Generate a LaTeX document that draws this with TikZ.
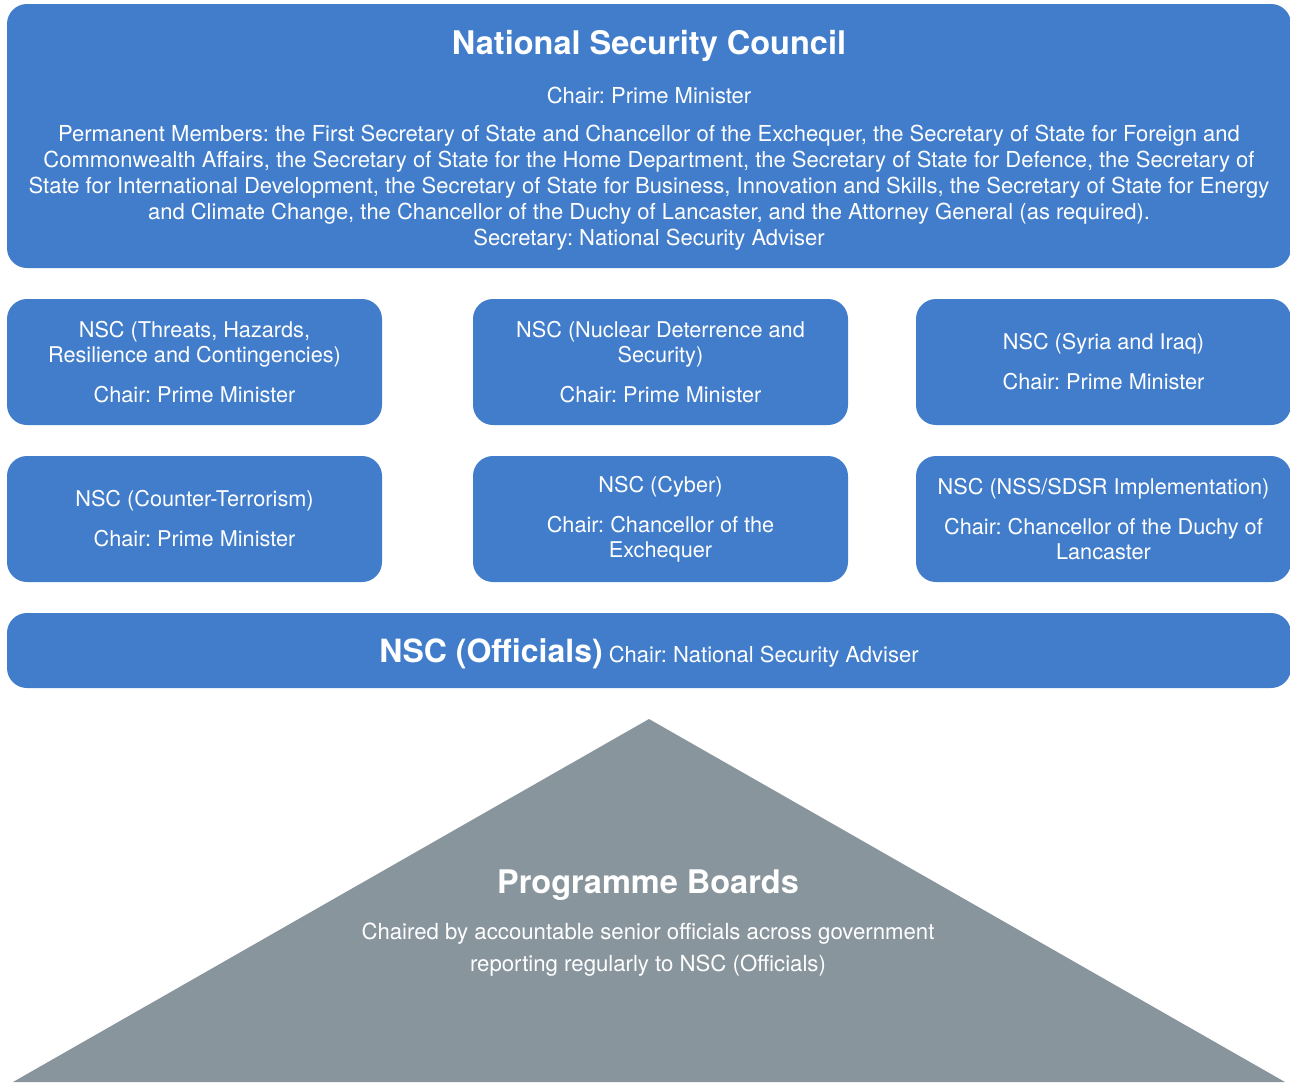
\documentclass[tikz,border=0pt]{standalone}
\usepackage{fontspec}
\setmainfont{TeX Gyre Heros}
\usetikzlibrary{positioning}
\definecolor{nscblue}{RGB}{65,125,203}
\definecolor{boardgrey}{RGB}{137,149,157}
\frenchspacing

\begin{document}
\begin{tikzpicture}[x=1pt,y=-1pt,
  panel/.style={fill=nscblue, rounded corners=20pt, inner sep=0pt, text=white,
    align=center, font=\fontsize{21.7}{25}\selectfont},
  subpanel/.style={panel, minimum width=375pt, minimum height=126pt},
  txt/.style={text=white, inner sep=0pt, align=center, font=\fontsize{22}{26}\selectfont},
  head/.style={text=white, inner sep=0pt, font=\fontsize{32.5}{36}\selectfont\bfseries}]
  \useasboundingbox (0,0) rectangle (1290,1082);

  % main council
  \node[panel, minimum width=1284pt, minimum height=264pt] (nsc) at (649,136) {};
  \node[head] (nsctitle) at (649,46) {National Security Council};
  \node[txt] (nscchair) at (649,95) {Chair: Prime Minister};
  \node[txt] (nscmembers) at (649,188) {Permanent Members: the First Secretary of State and Chancellor of the Exchequer, the Secretary of State for Foreign and\\
    Commonwealth Affairs, the Secretary of State for the Home Department, the Secretary of State for Defence, the Secretary of\\
    State for International Development, the Secretary of State for Business, Innovation and Skills, the Secretary of State for Energy\\
    and Climate Change, the Chancellor of the Duchy of Lancaster, and the Attorney General (as required).\\
    Secretary: National Security Adviser};

  % sub-committees
  \node[subpanel] (threats) at (194.5,362) {NSC (Threats, Hazards,\\Resilience and Contingencies)\\[15pt]Chair: Prime Minister};
  \node[subpanel] (nuclear) at (660.5,362) {NSC (Nuclear Deterrence and\\Security)\\[15pt]Chair: Prime Minister};
  \node[subpanel] (syria) at (1103.5,362) {NSC (Syria and Iraq)\\[15pt]Chair: Prime Minister};
  \node[subpanel] (terror) at (194.5,519) {NSC (Counter-Terrorism)\\[15pt]Chair: Prime Minister};
  \node[subpanel] (cyber) at (660.5,519) {NSC (Cyber)\\[15pt]Chair: Chancellor of the\\Exchequer};
  \node[subpanel] (sdsr) at (1103.5,519) {NSC (NSS/SDSR Implementation)\\[15pt]Chair: Chancellor of the Duchy of\\Lancaster};

  % officials
  \node[panel, minimum width=1284pt, minimum height=75pt] (officials) at (649,650.5) {};
  \node[txt] (officialstext) at (649,653.5)
    {{\fontsize{32}{36}\selectfont\bfseries NSC (Officials)} Chair: National Security Adviser};

  % programme boards
  \coordinate (apex) at (649,719);
  \coordinate (baseleft) at (13,1082);
  \coordinate (baseright) at (1285,1082);
  \fill[boardgrey] (baseleft) -- (apex) -- (baseright) -- cycle;
  \node[head] (boards) at (648,885) {Programme Boards};
  \node[txt, font=\fontsize{22.2}{32}\selectfont] (boardstext) at (648,950)
    {Chaired by accountable senior officials across government\\reporting regularly to NSC (Officials)};
\end{tikzpicture}
\end{document}
